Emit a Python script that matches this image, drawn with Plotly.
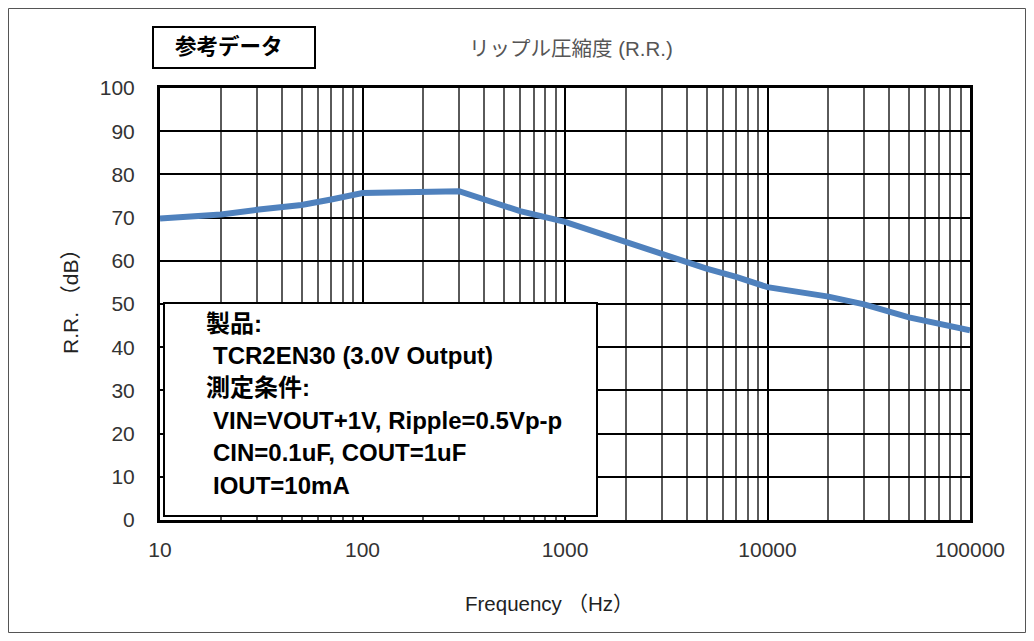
import plotly.graph_objects as go

# Data
freq_hz = [10, 20, 30, 50, 70, 100, 300, 600, 1000, 2000, 3000, 5000, 7000, 10000, 20000, 30000, 50000, 100000]
rr_db = [69.8, 70.7, 71.8, 72.9, 74.2, 75.7, 76.1, 71.5, 69.0, 64.2, 61.5, 58.2, 56.3, 53.9, 51.7, 49.9, 46.9, 43.9]
x_ticks = [10, 100, 1000, 10000, 100000]
x_tick_labels = ["10", "100", "1000", "10000", "100000"]
y_ticks = [0, 10, 20, 30, 40, 50, 60, 70, 80, 90, 100]
note_lines = [
    "製品:",
    " TCR2EN30 (3.0V Output)",
    "測定条件:",
    " VIN=VOUT+1V, Ripple=0.5Vp-p",
    " CIN=0.1uF, COUT=1uF",
    " IOUT=10mA",
]

# The page body has an 8px margin, so screen = figure + 8
OFF = 8
W, H = 1018, 627
L, T = 160 - OFF, 88 - OFF
R = W - (970 - OFF)
B = H - (520 - OFF)
PW, PH = W - L - R, H - T - B


def px(xs):
    return (xs - OFF - L) / PW


def py(ys):
    return (H - B - (ys - OFF)) / PH


FONT = "Liberation Sans, Arial, Noto Sans CJK JP, sans-serif"

fig = go.Figure()
fig.add_trace(go.Scatter(
    x=freq_hz, y=rr_db, mode="lines",
    line=dict(color="#4F81BD", width=6),
    showlegend=False, hoverinfo="skip",
))

fig.update_layout(
    width=W, height=H,
    margin=dict(l=L, r=R, t=T, b=B),
    paper_bgcolor="white", plot_bgcolor="white",
    font=dict(family=FONT, color="#222"),
    showlegend=False,
)

fig.update_xaxes(
    type="log", range=[1, 5],
    tickvals=x_ticks, ticktext=x_tick_labels,
    tickfont=dict(size=21, color="#333"),
    ticks="", ticklabelstandoff=9,
    showgrid=True, gridcolor="black", gridwidth=2,
    minor=dict(dtick="D1", showgrid=True, gridcolor="#5a5a5a", gridwidth=1.8, ticks=""),
    showline=True, linecolor="black", linewidth=3, mirror=True,
    zeroline=False,
)
fig.update_yaxes(
    range=[0, 100], tickvals=y_ticks,
    tickfont=dict(size=21, color="#333"),
    ticks="", ticklabelstandoff=18,
    showgrid=True, gridcolor="black", gridwidth=2,
    showline=True, linecolor="black", linewidth=3, mirror=True,
    zeroline=False,
)

shapes = []
# outer frame
shapes.append(dict(type="rect", xref="paper", yref="paper",
                   x0=px(8.5), x1=px(1025.5), y0=py(632.5), y1=py(8.5),
                   line=dict(color="#555", width=1), layer="above"))
# reference data box
shapes.append(dict(type="rect", xref="paper", yref="paper",
                   x0=px(153), x1=px(315), y0=py(68), y1=py(27),
                   line=dict(color="black", width=2), fillcolor="white", layer="above"))
# note box
shapes.append(dict(type="rect", xref="paper", yref="paper",
                   x0=px(164), x1=px(597), y0=py(516), y1=py(303),
                   line=dict(color="black", width=2), fillcolor="white", layer="above"))
fig.update_layout(shapes=shapes)

annotations = [
    dict(text="<b>参考データ</b>", xref="paper", yref="paper", x=px(229), y=py(47),
         showarrow=False, font=dict(size=21.5, color="black", family=FONT),
         xanchor="center", yanchor="middle"),
    dict(text="リップル圧縮度 (R.R.)", xref="paper", yref="paper", x=px(571), y=py(48),
         showarrow=False, font=dict(size=20.5, color="#555", family=FONT),
         xanchor="center", yanchor="middle"),
    dict(text="Frequency （Hz）", xref="paper", yref="paper", x=px(549), y=py(603),
         showarrow=False, font=dict(size=20.5, color="#222", family=FONT),
         xanchor="center", yanchor="middle"),
    dict(text="R.R. （dB）", xref="paper", yref="paper", x=px(70), y=py(296),
         showarrow=False, textangle=-90, font=dict(size=21, color="#222", family=FONT),
         xanchor="center", yanchor="middle"),
]
for i, line in enumerate(note_lines):
    indent = line.startswith(" ")
    annotations.append(dict(
        text="<b>" + line.strip() + "</b>", xref="paper", yref="paper",
        x=px(211 if indent else 204), y=py(323 + 32.4 * i),
        showarrow=False, font=dict(size=24, color="black", family=FONT),
        xanchor="left", yanchor="middle",
    ))
fig.update_layout(annotations=annotations)

fig.write_html("out.html")
